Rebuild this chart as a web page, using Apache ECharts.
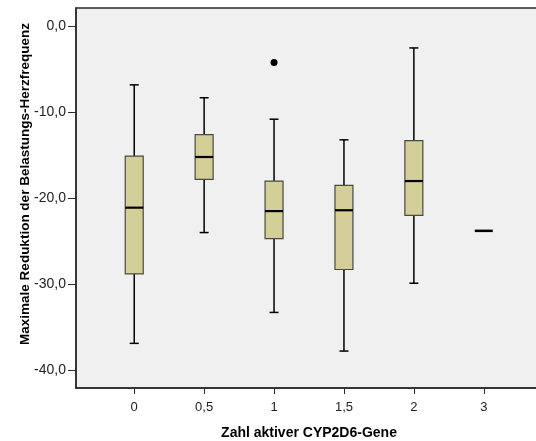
<!DOCTYPE html>
<html>
<head>
<meta charset="utf-8">
<script src="https://cdn.jsdelivr.net/npm/echarts@6/dist/echarts.min.js"></script>
<style>
  html, body { margin: 0; padding: 0; background: #fff; }
  #chart { width: 536px; height: 441px; }
</style>
</head>
<body>
<div id="chart"></div>
<script>
// groups on the x axis
const categories = ['0', '0,5', '1', '1,5', '2', '3'];

// box plot statistics
const whiskerLow  = [-36.9, -24.0, -33.3, -37.8, -29.9, -23.8];
const q1          = [-28.8, -17.8, -24.7, -28.3, -22.0, -23.8];
const median      = [-21.1, -15.2, -21.5, -21.4, -18.0, -23.8];
const q3          = [-15.1, -12.6, -18.0, -18.5, -13.3, -23.8];
const whiskerHigh = [-6.8, -8.3, -10.8, -13.2, -2.5, -23.8];

// outliers: [group index, value]
const outliers = [[2, -4.2]];

// y tick labels
const yTicks = [0, -10, -20, -30, -40];

const chartDom = document.getElementById('chart');
const chart = echarts.init(chartDom);

const font = 'Arial, "Liberation Sans", sans-serif';

const boxData = categories.map((c, i) => [i, whiskerLow[i], q1[i], median[i], q3[i], whiskerHigh[i]]);

function renderBox(params, api) {
  const x = api.value(0);
  const pLow = api.coord([x, api.value(1)]);
  const pQ1 = api.coord([x, api.value(2)]);
  const pMed = api.coord([x, api.value(3)]);
  const pQ3 = api.coord([x, api.value(4)]);
  const pHigh = api.coord([x, api.value(5)]);
  const bw = api.size([1, 0])[0] * 0.257;
  const cw = bw / 2;
  const cx = pMed[0];
  const children = [];
  const flat = pHigh[1] === pLow[1];
  if (!flat) {
    children.push(
      { type: 'line', shape: { x1: cx, y1: pHigh[1], x2: cx, y2: pQ3[1] }, style: { stroke: '#000', lineWidth: 1.5 } },
      { type: 'line', shape: { x1: cx, y1: pQ1[1], x2: cx, y2: pLow[1] }, style: { stroke: '#000', lineWidth: 1.5 } },
      { type: 'line', shape: { x1: cx - cw / 2, y1: pHigh[1], x2: cx + cw / 2, y2: pHigh[1] }, style: { stroke: '#000', lineWidth: 1.5 } },
      { type: 'line', shape: { x1: cx - cw / 2, y1: pLow[1], x2: cx + cw / 2, y2: pLow[1] }, style: { stroke: '#000', lineWidth: 1.5 } },
      { type: 'rect', shape: { x: cx - bw / 2, y: pQ3[1], width: bw, height: pQ1[1] - pQ3[1] },
        style: { fill: '#d4cf98', stroke: '#4a4a40', lineWidth: 1.2 } }
    );
  }
  children.push({ type: 'line', shape: { x1: cx - bw / 2, y1: pMed[1], x2: cx + bw / 2, y2: pMed[1] },
    style: { stroke: '#000', lineWidth: flat ? 2.5 : 2.2 } });
  return { type: 'group', children };
}

const option = {
  backgroundColor: '#fff',
  animation: false,
  textStyle: { fontFamily: font },
  grid: {
    left: 76, right: -6, top: 8, bottom: 53,
    outerBoundsMode: 'none',
    show: true,
    backgroundColor: '#f0f0f0',
    borderColor: '#2a2a2a',
    borderWidth: 1.5
  },
  xAxis: {
    type: 'value',
    min: -0.833,
    max: 5.833,
    name: 'Zahl aktiver CYP2D6-Gene',
    nameLocation: 'middle',
    nameGap: 38,
    nameTextStyle: { fontFamily: font, fontSize: 14, fontWeight: 'bold', color: '#000' },
    splitLine: { show: false },
    axisLine: { show: true, onZero: false, lineStyle: { color: '#2a2a2a', width: 1.5 } },
    axisTick: { show: true, length: 6, customValues: categories.map((c, i) => i), lineStyle: { color: '#2a2a2a', width: 1 } },
    axisLabel: {
      customValues: categories.map((c, i) => i),
      formatter: v => categories[Math.round(v)],
      margin: 13,
      fontSize: 13,
      color: '#222',
      fontFamily: font
    }
  },
  yAxis: {
    type: 'value',
    min: -42.1,
    max: 2.15,
    splitLine: { show: false },
    axisLine: { show: true, onZero: false, lineStyle: { color: '#2a2a2a', width: 1.5 } },
    axisTick: { show: true, length: 8, customValues: yTicks, lineStyle: { color: '#2a2a2a', width: 1 } },
    axisLabel: {
      customValues: yTicks,
      formatter: v => v.toFixed(1).replace('.', ','),
      margin: 10,
      fontSize: 14,
      color: '#222',
      fontFamily: font
    }
  },
  graphic: [{
    type: 'text',
    x: 25,
    y: 184,
    rotation: Math.PI / 2,
    style: {
      text: 'Maximale Reduktion der Belastungs-Herzfrequenz',
      font: 'bold 13.5px ' + font,
      fill: '#000',
      align: 'center',
      verticalAlign: 'middle'
    }
  }],
  series: [
    {
      type: 'custom',
      renderItem: renderBox,
      data: boxData,
      encode: { x: 0, y: [1, 2, 3, 4, 5] },
      clip: true
    },
    {
      type: 'scatter',
      data: outliers,
      symbol: 'circle',
      symbolSize: 7,
      itemStyle: { color: '#000', opacity: 1 }
    }
  ]
};

chart.setOption(option);
</script>
</body>
</html>
